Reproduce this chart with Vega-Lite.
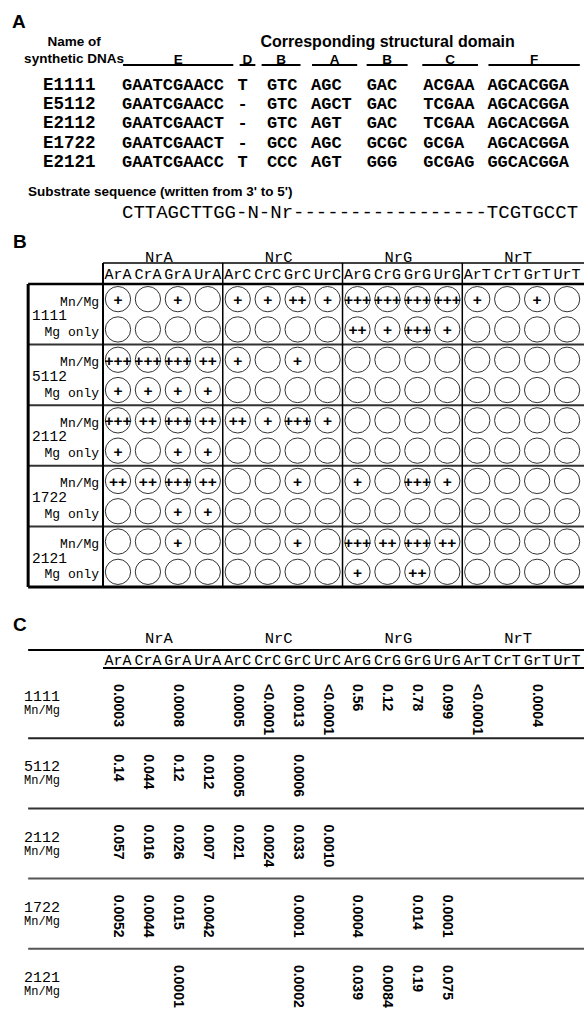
{
"$schema":"https://vega.github.io/schema/vega-lite/v6.json",
"padding":0,"background":"white","spacing":0,
"config":{"view":{"stroke":null},"concat":{"spacing":0}},
"datasets":{
"domains":[
{"domain":"E","label":"E","start":0,"lo":0.1,"hi":10.6},
{"domain":"D","label":"D","start":11,"lo":11.2,"hi":12.7},
{"domain":"B1","label":"B","start":13.8,"lo":13.3,"hi":17.0},
{"domain":"A","label":"A","start":18,"lo":18.1,"hi":22.4},
{"domain":"B2","label":"B","start":23.3,"lo":23.3,"hi":27.2},
{"domain":"C","label":"C","start":28.7,"lo":28.6,"hi":33.9},
{"domain":"F","label":"F","start":34.8,"lo":34.9,"hi":43.6}],
"seqs":[
{"name":"E1111","row":1,"domain":"E","seq":"GAATCGAACC"},{"name":"E1111","row":1,"domain":"D","seq":"T"},{"name":"E1111","row":1,"domain":"B1","seq":"GTC"},{"name":"E1111","row":1,"domain":"A","seq":"AGC"},{"name":"E1111","row":1,"domain":"B2","seq":"GAC"},{"name":"E1111","row":1,"domain":"C","seq":"ACGAA"},{"name":"E1111","row":1,"domain":"F","seq":"AGCACGGA"},
{"name":"E5112","row":2,"domain":"E","seq":"GAATCGAACC"},{"name":"E5112","row":2,"domain":"D","seq":"-"},{"name":"E5112","row":2,"domain":"B1","seq":"GTC"},{"name":"E5112","row":2,"domain":"A","seq":"AGCT"},{"name":"E5112","row":2,"domain":"B2","seq":"GAC"},{"name":"E5112","row":2,"domain":"C","seq":"TCGAA"},{"name":"E5112","row":2,"domain":"F","seq":"AGCACGGA"},
{"name":"E2112","row":3,"domain":"E","seq":"GAATCGAACT"},{"name":"E2112","row":3,"domain":"D","seq":"-"},{"name":"E2112","row":3,"domain":"B1","seq":"GTC"},{"name":"E2112","row":3,"domain":"A","seq":"AGT"},{"name":"E2112","row":3,"domain":"B2","seq":"GAC"},{"name":"E2112","row":3,"domain":"C","seq":"TCGAA"},{"name":"E2112","row":3,"domain":"F","seq":"AGCACGGA"},
{"name":"E1722","row":4,"domain":"E","seq":"GAATCGAACT"},{"name":"E1722","row":4,"domain":"D","seq":"-"},{"name":"E1722","row":4,"domain":"B1","seq":"GCC"},{"name":"E1722","row":4,"domain":"A","seq":"AGC"},{"name":"E1722","row":4,"domain":"B2","seq":"GCGC"},{"name":"E1722","row":4,"domain":"C","seq":"GCGA"},{"name":"E1722","row":4,"domain":"F","seq":"AGCACGGA"},
{"name":"E2121","row":5,"domain":"E","seq":"GAATCGAACC"},{"name":"E2121","row":5,"domain":"D","seq":"T"},{"name":"E2121","row":5,"domain":"B1","seq":"CCC"},{"name":"E2121","row":5,"domain":"A","seq":"AGT"},{"name":"E2121","row":5,"domain":"B2","seq":"GGG"},{"name":"E2121","row":5,"domain":"C","seq":"GCGAG"},{"name":"E2121","row":5,"domain":"F","seq":"GGCACGGA"}],
"subs":[
{"sub":"ArA","group":"NrA","col":1},{"sub":"CrA","group":"NrA","col":2},{"sub":"GrA","group":"NrA","col":3},{"sub":"UrA","group":"NrA","col":4},
{"sub":"ArC","group":"NrC","col":5},{"sub":"CrC","group":"NrC","col":6},{"sub":"GrC","group":"NrC","col":7},{"sub":"UrC","group":"NrC","col":8},
{"sub":"ArG","group":"NrG","col":9},{"sub":"CrG","group":"NrG","col":10},{"sub":"GrG","group":"NrG","col":11},{"sub":"UrG","group":"NrG","col":12},
{"sub":"ArT","group":"NrT","col":13},{"sub":"CrT","group":"NrT","col":14},{"sub":"GrT","group":"NrT","col":15},{"sub":"UrT","group":"NrT","col":16}],
"activity":[
{"construct":"1111","cond":"Mn/Mg","row":1,"ArA":"+","GrA":"+","ArC":"+","CrC":"+","GrC":"++","UrC":"+","ArG":"+++","CrG":"+++","GrG":"+++","UrG":"+++","ArT":"+","GrT":"+"},
{"construct":"1111","cond":"Mg only","row":2,"ArG":"++","CrG":"+","GrG":"+++","UrG":"+"},
{"construct":"5112","cond":"Mn/Mg","row":3,"ArA":"+++","CrA":"+++","GrA":"+++","UrA":"++","ArC":"+","GrC":"+"},
{"construct":"5112","cond":"Mg only","row":4,"ArA":"+","CrA":"+","GrA":"+","UrA":"+"},
{"construct":"2112","cond":"Mn/Mg","row":5,"ArA":"+++","CrA":"++","GrA":"+++","UrA":"++","ArC":"++","CrC":"+","GrC":"+++","UrC":"+"},
{"construct":"2112","cond":"Mg only","row":6,"ArA":"+","GrA":"+","UrA":"+"},
{"construct":"1722","cond":"Mn/Mg","row":7,"ArA":"++","CrA":"++","GrA":"+++","UrA":"++","GrC":"+","ArG":"+","GrG":"+++","UrG":"+"},
{"construct":"1722","cond":"Mg only","row":8,"GrA":"+","UrA":"+"},
{"construct":"2121","cond":"Mn/Mg","row":9,"GrA":"+","GrC":"+","ArG":"+++","CrG":"++","GrG":"+++","UrG":"++"},
{"construct":"2121","cond":"Mg only","row":10,"ArG":"+","GrG":"++"}],
"ratios":[
{"construct":"1111","cond":"Mn/Mg","row":1,"ArA":"0.0003","GrA":"0.0008","ArC":"0.0005","CrC":"<0.0001","GrC":"0.0013","UrC":"<0.0001","ArG":"0.56","CrG":"0.12","GrG":"0.78","UrG":"0.099","ArT":"<0.0001","GrT":"0.0004"},
{"construct":"5112","cond":"Mn/Mg","row":2,"ArA":"0.14","CrA":"0.044","GrA":"0.12","UrA":"0.012","ArC":"0.0005","GrC":"0.0006"},
{"construct":"2112","cond":"Mn/Mg","row":3,"ArA":"0.057","CrA":"0.016","GrA":"0.026","UrA":"0.007","ArC":"0.021","CrC":"0.0024","GrC":"0.033","UrC":"0.0010"},
{"construct":"1722","cond":"Mn/Mg","row":4,"ArA":"0.0052","CrA":"0.0044","GrA":"0.015","UrA":"0.0042","GrC":"0.0001","ArG":"0.0004","GrG":"0.014","UrG":"0.0001"},
{"construct":"2121","cond":"Mn/Mg","row":5,"GrA":"0.0001","GrC":"0.0002","ArG":"0.039","CrG":"0.0084","GrG":"0.19","UrG":"0.075"}]
},
"vconcat":[
{"width":584,"height":228,
"layer":[
{"data":{"values":[{"t":"A"}]},"mark":{"type":"text","font":"Liberation Sans","fontWeight":"bold","fontSize":19,"align":"left","baseline":"middle"},
"encoding":{"x":{"datum":-10.48,"type":"quantitative","scale":{"domain":[-11.619,44],"nice":false,"zero":false},"axis":null},"y":{"datum":-2.281,"type":"quantitative","scale":{"domain":[-3.427,8.448],"nice":false,"zero":false,"reverse":true},"axis":null},"text":{"field":"t"}}},
{"data":{"values":[{"t":"Name of"}]},"mark":{"type":"text","font":"Liberation Sans","fontWeight":"bold","fontSize":13.5,"align":"center","baseline":"middle"},
"encoding":{"x":{"datum":-4.57,"type":"quantitative","scale":{"domain":[-11.619,44],"nice":false,"zero":false},"axis":null},"y":{"datum":-1.24,"type":"quantitative","scale":{"domain":[-3.427,8.448],"nice":false,"zero":false,"reverse":true},"axis":null},"text":{"field":"t"}}},
{"data":{"values":[{"t":"synthetic DNAs"}]},"mark":{"type":"text","font":"Liberation Sans","fontWeight":"bold","fontSize":13.5,"align":"center","baseline":"middle"},
"encoding":{"x":{"datum":-4.57,"type":"quantitative","scale":{"domain":[-11.619,44],"nice":false,"zero":false},"axis":null},"y":{"datum":-0.38,"type":"quantitative","scale":{"domain":[-3.427,8.448],"nice":false,"zero":false,"reverse":true},"axis":null},"text":{"field":"t"}}},
{"data":{"values":[{"t":"Corresponding structural domain"}]},"mark":{"type":"text","font":"Liberation Sans","fontWeight":"bold","fontSize":16,"align":"center","baseline":"middle"},
"encoding":{"x":{"datum":25.3,"type":"quantitative","scale":{"domain":[-11.619,44],"nice":false,"zero":false},"axis":null},"y":{"datum":-1.24,"type":"quantitative","scale":{"domain":[-3.427,8.448],"nice":false,"zero":false,"reverse":true},"axis":null},"text":{"field":"t"}}},
{"data":{"name":"domains"},"mark":{"type":"rule","strokeWidth":2,"color":"black"},
"encoding":{"x":{"field":"lo","type":"quantitative","scale":{"domain":[-11.619,44],"nice":false,"zero":false},"axis":null},"x2":{"field":"hi"},"y":{"datum":-0.042,"type":"quantitative","scale":{"domain":[-3.427,8.448],"nice":false,"zero":false,"reverse":true},"axis":null}}},
{"data":{"name":"domains"},"transform":[{"fold":["lo","hi"],"as":["end","edge"]}],"mark":{"type":"text","font":"Liberation Sans","fontWeight":"bold","fontSize":13.5,"align":"center","baseline":"alphabetic"},
"encoding":{"x":{"aggregate":"mean","field":"edge","type":"quantitative","scale":{"domain":[-11.619,44],"nice":false,"zero":false},"axis":null},"y":{"datum":-0.1,"type":"quantitative","scale":{"domain":[-3.427,8.448],"nice":false,"zero":false,"reverse":true},"axis":null},"text":{"field":"label"},"detail":{"field":"domain"}}},
{"data":{"name":"seqs"},"transform":[{"lookup":"domain","from":{"data":{"name":"domains"},"key":"domain","fields":["start"]}}],"mark":{"type":"text","font":"Liberation Mono","fontWeight":"bold","fontSize":17,"align":"left","baseline":"middle"},
"encoding":{"x":{"field":"start","type":"quantitative","scale":{"domain":[-11.619,44],"nice":false,"zero":false},"axis":null},"y":{"field":"row","type":"quantitative","scale":{"domain":[-3.427,8.448],"nice":false,"zero":false,"reverse":true},"axis":null},"text":{"field":"seq"}}},
{"data":{"name":"seqs"},"transform":[{"filter":"datum.domain === 'E'"}],"mark":{"type":"text","font":"Liberation Mono","fontWeight":"bold","fontSize":17.5,"align":"left","baseline":"middle"},
"encoding":{"x":{"datum":-7.52,"type":"quantitative","scale":{"domain":[-11.619,44],"nice":false,"zero":false},"axis":null},"y":{"field":"row","type":"quantitative","scale":{"domain":[-3.427,8.448],"nice":false,"zero":false,"reverse":true},"axis":null},"text":{"field":"name"}}},
{"data":{"values":[{"t":"Substrate sequence (written from 3' to 5')"}]},"mark":{"type":"text","font":"Liberation Sans","fontWeight":"bold","fontSize":13.5,"align":"left","baseline":"middle"},
"encoding":{"x":{"datum":-8.95,"type":"quantitative","scale":{"domain":[-11.619,44],"nice":false,"zero":false},"axis":null},"y":{"datum":6.573,"type":"quantitative","scale":{"domain":[-3.427,8.448],"nice":false,"zero":false,"reverse":true},"axis":null},"text":{"field":"t"}}},
{"data":{"values":[{"t":"CTTAGCTTGG-N-Nr-----------------TCGTGCCT"}]},"mark":{"type":"text","font":"Liberation Mono","fontSize":19,"align":"left","baseline":"middle"},
"encoding":{"x":{"datum":0,"type":"quantitative","scale":{"domain":[-11.619,44],"nice":false,"zero":false},"axis":null},"y":{"datum":7.615,"type":"quantitative","scale":{"domain":[-3.427,8.448],"nice":false,"zero":false,"reverse":true},"axis":null},"text":{"field":"t"}}}
]},
{"width":584,"height":372,
"layer":[
{"data":{"name":"activity"},"transform":[{"fold":["ArA","CrA","GrA","UrA","ArC","CrC","GrC","UrC","ArG","CrG","GrG","UrG","ArT","CrT","GrT","UrT"],"as":["sub","score"]},{"lookup":"sub","from":{"data":{"name":"subs"},"key":"sub","fields":["col","group"]}}],
"mark":{"type":"point","shape":"circle","filled":false,"size":640,"color":"#333","stroke":"#333","strokeWidth":1,"opacity":1},
"encoding":{"x":{"field":"col","type":"quantitative","scale":{"domain":[-2.94,16.565],"nice":false,"zero":false},"axis":null},"y":{"field":"row","type":"quantitative","scale":{"domain":[-1.348,10.929],"nice":false,"zero":false,"reverse":true},"axis":null}}},
{"data":{"name":"activity"},"transform":[{"fold":["ArA","CrA","GrA","UrA","ArC","CrC","GrC","UrC","ArG","CrG","GrG","UrG","ArT","CrT","GrT","UrT"],"as":["sub","score"]},{"filter":"isValid(datum.score) && datum.score !== ''"},{"lookup":"sub","from":{"data":{"name":"subs"},"key":"sub","fields":["col","group"]}}],
"mark":{"type":"text","font":"Liberation Sans","fontWeight":"bold","fontSize":15.5,"align":"center","baseline":"middle","dy":1},
"encoding":{"x":{"field":"col","type":"quantitative","scale":{"domain":[-2.94,16.565],"nice":false,"zero":false},"axis":null},"y":{"field":"row","type":"quantitative","scale":{"domain":[-1.348,10.929],"nice":false,"zero":false,"reverse":true},"axis":null},"text":{"field":"score"}}},
{"data":{"name":"subs"},"mark":{"type":"text","font":"Liberation Mono","fontSize":15,"align":"center","baseline":"middle"},
"encoding":{"x":{"field":"col","type":"quantitative","scale":{"domain":[-2.94,16.565],"nice":false,"zero":false},"axis":null},"y":{"datum":0.17,"type":"quantitative","scale":{"domain":[-1.348,10.929],"nice":false,"zero":false,"reverse":true},"axis":null},"text":{"field":"sub"}}},
{"data":{"name":"subs"},"mark":{"type":"text","font":"Liberation Mono","fontSize":15.5,"align":"center","baseline":"middle","dx":-4},
"encoding":{"x":{"aggregate":"mean","field":"col","type":"quantitative","scale":{"domain":[-2.94,16.565],"nice":false,"zero":false},"axis":null},"y":{"datum":-0.391,"type":"quantitative","scale":{"domain":[-1.348,10.929],"nice":false,"zero":false,"reverse":true},"axis":null},"text":{"field":"group"}}},
{"data":{"name":"activity"},"mark":{"type":"text","font":"Liberation Mono","fontSize":13,"align":"right","baseline":"middle","dy":2.5},
"encoding":{"x":{"datum":0.37,"type":"quantitative","scale":{"domain":[-2.94,16.565],"nice":false,"zero":false},"axis":null},"y":{"field":"row","type":"quantitative","scale":{"domain":[-1.348,10.929],"nice":false,"zero":false,"reverse":true},"axis":null},"text":{"field":"cond"}}},
{"data":{"name":"activity"},"transform":[{"filter":"datum.cond === 'Mn/Mg'"}],"mark":{"type":"text","font":"Liberation Mono","fontSize":14.5,"align":"left","baseline":"middle","dy":17},
"encoding":{"x":{"datum":-1.87,"type":"quantitative","scale":{"domain":[-2.94,16.565],"nice":false,"zero":false},"axis":null},"y":{"field":"row","type":"quantitative","scale":{"domain":[-1.348,10.929],"nice":false,"zero":false,"reverse":true},"axis":null},"text":{"field":"construct"}}},
{"data":{"values":[{"t":"B"}]},"mark":{"type":"text","font":"Liberation Sans","fontWeight":"bold","fontSize":19,"align":"left","baseline":"middle"},
"encoding":{"x":{"datum":-2.506,"type":"quantitative","scale":{"domain":[-2.94,16.565],"nice":false,"zero":false},"axis":null},"y":{"datum":-0.886,"type":"quantitative","scale":{"domain":[-1.348,10.929],"nice":false,"zero":false,"reverse":true},"axis":null},"text":{"field":"t"}}},
{"mark":{"type":"rule","strokeWidth":1.5,"color":"black"},"data":{"values":[{}]},
"encoding":{"x":{"datum":0.5,"type":"quantitative","scale":{"domain":[-2.94,16.565],"nice":false,"zero":false},"axis":null},"x2":{"datum":16.565},"y":{"datum":-0.193,"type":"quantitative","scale":{"domain":[-1.348,10.929],"nice":false,"zero":false,"reverse":true},"axis":null}}},
{"mark":{"type":"rule","strokeWidth":2.5,"color":"black"},"data":{"values":[{}]},
"encoding":{"x":{"datum":-2,"type":"quantitative","scale":{"domain":[-2.94,16.565],"nice":false,"zero":false},"axis":null},"x2":{"datum":16.565},"y":{"datum":0.5,"type":"quantitative","scale":{"domain":[-1.348,10.929],"nice":false,"zero":false,"reverse":true},"axis":null}}},
{"mark":{"type":"rule","strokeWidth":3,"color":"black"},"data":{"values":[{}]},
"encoding":{"x":{"datum":-2,"type":"quantitative","scale":{"domain":[-2.94,16.565],"nice":false,"zero":false},"axis":null},"x2":{"datum":16.565},"y":{"datum":10.5,"type":"quantitative","scale":{"domain":[-1.348,10.929],"nice":false,"zero":false,"reverse":true},"axis":null}}},
{"mark":{"type":"rule","strokeWidth":2,"color":"#333"},"data":{"values":[{}]},
"encoding":{"x":{"datum":-2,"type":"quantitative","scale":{"domain":[-2.94,16.565],"nice":false,"zero":false},"axis":null},"x2":{"datum":16.565},"y":{"datum":2.5,"type":"quantitative","scale":{"domain":[-1.348,10.929],"nice":false,"zero":false,"reverse":true},"axis":null}}},
{"mark":{"type":"rule","strokeWidth":2,"color":"#333"},"data":{"values":[{}]},
"encoding":{"x":{"datum":-2,"type":"quantitative","scale":{"domain":[-2.94,16.565],"nice":false,"zero":false},"axis":null},"x2":{"datum":16.565},"y":{"datum":4.5,"type":"quantitative","scale":{"domain":[-1.348,10.929],"nice":false,"zero":false,"reverse":true},"axis":null}}},
{"mark":{"type":"rule","strokeWidth":2,"color":"#333"},"data":{"values":[{}]},
"encoding":{"x":{"datum":-2,"type":"quantitative","scale":{"domain":[-2.94,16.565],"nice":false,"zero":false},"axis":null},"x2":{"datum":16.565},"y":{"datum":6.5,"type":"quantitative","scale":{"domain":[-1.348,10.929],"nice":false,"zero":false,"reverse":true},"axis":null}}},
{"mark":{"type":"rule","strokeWidth":2,"color":"#333"},"data":{"values":[{}]},
"encoding":{"x":{"datum":-2,"type":"quantitative","scale":{"domain":[-2.94,16.565],"nice":false,"zero":false},"axis":null},"x2":{"datum":16.565},"y":{"datum":8.5,"type":"quantitative","scale":{"domain":[-1.348,10.929],"nice":false,"zero":false,"reverse":true},"axis":null}}},
{"mark":{"type":"rule","strokeWidth":3,"color":"black"},"data":{"values":[{}]},
"encoding":{"x":{"datum":-2,"type":"quantitative","scale":{"domain":[-2.94,16.565],"nice":false,"zero":false},"axis":null},"y":{"datum":0.5,"type":"quantitative","scale":{"domain":[-1.348,10.929],"nice":false,"zero":false,"reverse":true},"axis":null},"y2":{"datum":10.5}}},
{"mark":{"type":"rule","strokeWidth":2,"color":"black"},"data":{"values":[{}]},
"encoding":{"x":{"datum":0.5,"type":"quantitative","scale":{"domain":[-2.94,16.565],"nice":false,"zero":false},"axis":null},"y":{"datum":-0.193,"type":"quantitative","scale":{"domain":[-1.348,10.929],"nice":false,"zero":false,"reverse":true},"axis":null},"y2":{"datum":10.5}}},
{"mark":{"type":"rule","strokeWidth":1.5,"color":"black"},"data":{"values":[{}]},
"encoding":{"x":{"datum":4.5,"type":"quantitative","scale":{"domain":[-2.94,16.565],"nice":false,"zero":false},"axis":null},"y":{"datum":-0.193,"type":"quantitative","scale":{"domain":[-1.348,10.929],"nice":false,"zero":false,"reverse":true},"axis":null},"y2":{"datum":10.5}}},
{"mark":{"type":"rule","strokeWidth":1.5,"color":"black"},"data":{"values":[{}]},
"encoding":{"x":{"datum":8.5,"type":"quantitative","scale":{"domain":[-2.94,16.565],"nice":false,"zero":false},"axis":null},"y":{"datum":-0.193,"type":"quantitative","scale":{"domain":[-1.348,10.929],"nice":false,"zero":false,"reverse":true},"axis":null},"y2":{"datum":10.5}}},
{"mark":{"type":"rule","strokeWidth":1.5,"color":"black"},"data":{"values":[{}]},
"encoding":{"x":{"datum":12.5,"type":"quantitative","scale":{"domain":[-2.94,16.565],"nice":false,"zero":false},"axis":null},"y":{"datum":-0.193,"type":"quantitative","scale":{"domain":[-1.348,10.929],"nice":false,"zero":false,"reverse":true},"axis":null},"y2":{"datum":10.5}}}
]},
{"width":584,"height":419,
"layer":[
{"data":{"name":"ratios"},"transform":[{"fold":["ArA","CrA","GrA","UrA","ArC","CrC","GrC","UrC","ArG","CrG","GrG","UrG","ArT","CrT","GrT","UrT"],"as":["sub","ratio"]},{"filter":"isValid(datum.ratio) && datum.ratio !== ''"},{"lookup":"sub","from":{"data":{"name":"subs"},"key":"sub","fields":["col"]}}],
"mark":{"type":"text","font":"Liberation Sans","fontWeight":"bold","fontSize":14,"align":"left","baseline":"middle","angle":90,"dx":-19},
"encoding":{"x":{"field":"col","type":"quantitative","scale":{"domain":[-2.94,16.565],"nice":false,"zero":false},"axis":null},"y":{"field":"row","type":"quantitative","scale":{"domain":[-0.4687,5.5],"nice":false,"zero":false,"reverse":true},"axis":null},"text":{"field":"ratio"}}},
{"data":{"name":"subs"},"mark":{"type":"text","font":"Liberation Mono","fontSize":15,"align":"center","baseline":"middle"},
"encoding":{"x":{"field":"col","type":"quantitative","scale":{"domain":[-2.94,16.565],"nice":false,"zero":false},"axis":null},"y":{"datum":0.386,"type":"quantitative","scale":{"domain":[-0.4687,5.5],"nice":false,"zero":false,"reverse":true},"axis":null},"text":{"field":"sub"}}},
{"data":{"name":"subs"},"mark":{"type":"text","font":"Liberation Mono","fontSize":15.5,"align":"center","baseline":"middle","dx":-4},
"encoding":{"x":{"aggregate":"mean","field":"col","type":"quantitative","scale":{"domain":[-2.94,16.565],"nice":false,"zero":false},"axis":null},"y":{"datum":0.0726,"type":"quantitative","scale":{"domain":[-0.4687,5.5],"nice":false,"zero":false,"reverse":true},"axis":null},"text":{"field":"group"}}},
{"data":{"name":"ratios"},"mark":{"type":"text","font":"Liberation Mono","fontSize":15,"align":"center","baseline":"middle","dy":-7},
"encoding":{"x":{"datum":-1.537,"type":"quantitative","scale":{"domain":[-2.94,16.565],"nice":false,"zero":false},"axis":null},"y":{"field":"row","type":"quantitative","scale":{"domain":[-0.4687,5.5],"nice":false,"zero":false,"reverse":true},"axis":null},"text":{"field":"construct"}}},
{"data":{"name":"ratios"},"mark":{"type":"text","font":"Liberation Mono","fontSize":12,"align":"center","baseline":"middle","dy":7},
"encoding":{"x":{"datum":-1.537,"type":"quantitative","scale":{"domain":[-2.94,16.565],"nice":false,"zero":false},"axis":null},"y":{"field":"row","type":"quantitative","scale":{"domain":[-0.4687,5.5],"nice":false,"zero":false,"reverse":true},"axis":null},"text":{"field":"cond"}}},
{"data":{"values":[{"t":"C"}]},"mark":{"type":"text","font":"Liberation Sans","fontWeight":"bold","fontSize":19,"align":"left","baseline":"middle"},
"encoding":{"x":{"datum":-2.506,"type":"quantitative","scale":{"domain":[-2.94,16.565],"nice":false,"zero":false},"axis":null},"y":{"datum":-0.1125,"type":"quantitative","scale":{"domain":[-0.4687,5.5],"nice":false,"zero":false,"reverse":true},"axis":null},"text":{"field":"t"}}},
{"mark":{"type":"rule","strokeWidth":2,"color":"black"},"data":{"values":[{}]},
"encoding":{"x":{"datum":-2,"type":"quantitative","scale":{"domain":[-2.94,16.565],"nice":false,"zero":false},"axis":null},"x2":{"datum":16.565},"y":{"datum":0.2436,"type":"quantitative","scale":{"domain":[-0.4687,5.5],"nice":false,"zero":false,"reverse":true},"axis":null}}},
{"mark":{"type":"rule","strokeWidth":2,"color":"black"},"data":{"values":[{}]},
"encoding":{"x":{"datum":0.5,"type":"quantitative","scale":{"domain":[-2.94,16.565],"nice":false,"zero":false},"axis":null},"x2":{"datum":16.565},"y":{"datum":0.5,"type":"quantitative","scale":{"domain":[-0.4687,5.5],"nice":false,"zero":false,"reverse":true},"axis":null}}},
{"mark":{"type":"rule","strokeWidth":2,"color":"#222"},"data":{"values":[{}]},
"encoding":{"x":{"datum":-2,"type":"quantitative","scale":{"domain":[-2.94,16.565],"nice":false,"zero":false},"axis":null},"x2":{"datum":16.565},"y":{"datum":1.5,"type":"quantitative","scale":{"domain":[-0.4687,5.5],"nice":false,"zero":false,"reverse":true},"axis":null}}},
{"mark":{"type":"rule","strokeWidth":2,"color":"#333"},"data":{"values":[{}]},
"encoding":{"x":{"datum":-2,"type":"quantitative","scale":{"domain":[-2.94,16.565],"nice":false,"zero":false},"axis":null},"x2":{"datum":16.565},"y":{"datum":2.5,"type":"quantitative","scale":{"domain":[-0.4687,5.5],"nice":false,"zero":false,"reverse":true},"axis":null}}},
{"mark":{"type":"rule","strokeWidth":2,"color":"#555"},"data":{"values":[{}]},
"encoding":{"x":{"datum":-2,"type":"quantitative","scale":{"domain":[-2.94,16.565],"nice":false,"zero":false},"axis":null},"x2":{"datum":16.565},"y":{"datum":3.5,"type":"quantitative","scale":{"domain":[-0.4687,5.5],"nice":false,"zero":false,"reverse":true},"axis":null}}},
{"mark":{"type":"rule","strokeWidth":2,"color":"#555"},"data":{"values":[{}]},
"encoding":{"x":{"datum":-2,"type":"quantitative","scale":{"domain":[-2.94,16.565],"nice":false,"zero":false},"axis":null},"x2":{"datum":16.565},"y":{"datum":4.5,"type":"quantitative","scale":{"domain":[-0.4687,5.5],"nice":false,"zero":false,"reverse":true},"axis":null}}}
]}
]}
